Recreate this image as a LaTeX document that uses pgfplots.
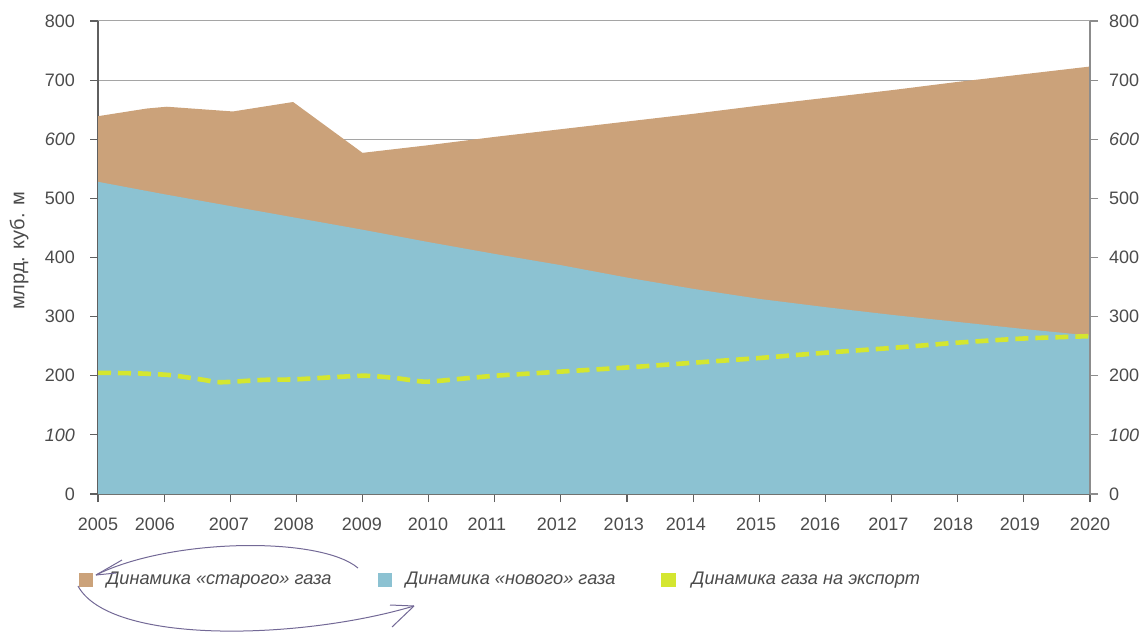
\documentclass[border=0pt]{standalone}
\usepackage{fontspec}
\setmainfont{Liberation Sans}
\usepackage{pgfplots}
\pgfplotsset{compat=1.18}
\definecolor{tanc}{RGB}{203,162,122}
\definecolor{sky}{RGB}{140,194,210}
\definecolor{lime}{RGB}{212,230,48}
\definecolor{txt}{RGB}{75,75,75}
\definecolor{axc}{RGB}{95,95,95}
\definecolor{axr}{RGB}{140,140,140}
\definecolor{gridc}{RGB}{165,165,165}
\definecolor{pen}{RGB}{115,105,150}
\pgfplotsset{
  layers/mylayers/.define layer set={axis background,axis grid,main,axis ticks,axis lines,axis tick labels,axis descriptions,axis foreground}{},
}
\begin{document}
\begin{tikzpicture}
\begin{axis}[
  set layers=mylayers,
  scale only axis, width=496pt, height=236.5pt,
  xmin=2005, xmax=2020, ymin=0, ymax=800,
  axis x line*=bottom, axis y line*=left,
  ytick={0,100,...,800},
  yticklabels={0,\textit{100},200,300,400,500,\textit{600},700,800},
  ymajorgrids, grid style={gridc, line width=0.5pt},
  xtick={2005,...,2020}, xticklabels={},
  extra x ticks={2005,2005.86,2006.98,2007.96,2008.99,2009.99,2010.88,2011.94,2012.95,2013.89,2014.95,2015.92,2016.95,2017.93,2018.94,2020},
  extra x tick labels={2005,2006,2007,2008,2009,2010,2011,2012,2013,2014,2015,2016,2017,2018,2019,2020},
  extra x tick style={major tick length=0pt},
  tick align=outside, major tick length=4pt,
  axis line style={axc, line width=0.6pt},
  tick style={axc, line width=0.6pt},
  ticklabel style={font=\fontsize{9}{10}\selectfont, color=txt},
  xticklabel style={yshift=-8.5pt},
  yticklabel style={xshift=-4pt},
  ylabel={млрд. куб. м},
  ylabel style={font=\fontsize{10}{12}\selectfont, color=txt, at={(axis description cs:-0.0796,0.514)}, anchor=center, rotate=0},
  legend columns=3,
  legend style={at={(-0.026,-0.182)}, anchor=west, draw=none, fill=none,
    font=\itshape\fontsize{9.1}{11}\selectfont, text=txt,
    /tikz/every even column/.append style={column sep=21pt}},
]
\coordinate (bl) at (rel axis cs:0,0);
\addplot[fill=tanc, draw=none,
  legend image code/.code={\path[fill=tanc, draw=none] (0pt,-3.7pt) rectangle (7.4pt,3.7pt); \path (12pt,0pt);}]
  coordinates {(2005,639) (2005.74,652) (2006.04,655) (2007.04,647) (2007.95,663) (2009,577)
   (2010,590) (2011,604) (2012,617) (2013,630) (2014,643) (2015,657) (2016,670)
   (2017,683) (2018,697) (2019,710) (2020,723)} \closedcycle;
\addlegendentry{Динамика «старого» газа}
\addplot[fill=sky, draw=none,
  legend image code/.code={\path[fill=sky, draw=none] (0pt,-3.7pt) rectangle (7.4pt,3.7pt); \path (12pt,0pt);}]
  coordinates {(2005,528) (2006,507) (2007,487) (2008,467) (2009,447) (2010,426)
   (2011,406) (2012,387) (2013,366) (2014,347) (2015,330) (2016,316) (2017,303)
   (2018,291) (2019,279) (2020,268)} \closedcycle;
\addlegendentry{Динамика «нового» газа}
\addplot[lime, line width=2.3pt, dash pattern=on 6.5pt off 3.5pt, smooth, tension=0.4,
  legend image code/.code={\path[fill=lime, draw=none, solid] (0pt,-3.7pt) rectangle (7.4pt,3.7pt); \path (12pt,0pt);}]
  coordinates {(2005,205) (2005.6,204) (2006.1,201) (2006.6,193) (2006.85,189) (2007.5,193)
   (2008,194) (2009,200) (2009.5,196) (2009.95,190) (2010.5,195) (2011,200) (2012,207)
   (2013,214) (2014,222) (2015,230) (2016,239) (2017,247) (2018,256) (2019,263) (2020,267)};
\addlegendentry{Динамика газа на экспорт}
\end{axis}
\begin{axis}[
  scale only axis, width=496pt, height=236.5pt,
  xmin=2005, xmax=2020, ymin=0, ymax=800,
  axis x line=none, axis y line*=right,
  ytick={0,100,...,800},
  yticklabels={0,\textit{100},200,300,400,500,\textit{600},700,800},
  tick align=outside, major tick length=4pt,
  axis line style={axr, line width=0.6pt},
  tick style={axr, line width=0.6pt},
  ticklabel style={font=\fontsize{9}{10}\selectfont, color=txt},
  yticklabel style={xshift=2pt},
]
\end{axis}
\begin{scope}[shift={([xshift=-49pt,yshift=247pt]bl)}, x=0.5pt, y=-0.5pt, pen, line width=0.5pt]
  \draw (358,568) .. controls (320,536) and (170,538) .. (96,575);
  \draw (96,575) -- (122,560);
  \draw (96,575) -- (116,573);
  \draw (78,586) .. controls (110,645) and (300,640) .. (414,606);
  \draw (414,606) -- (390,605);
  \draw (414,606) -- (392,627);
\end{scope}
\pgfresetboundingbox
\path ([xshift=-49pt,yshift=-69.5pt]bl) rectangle ([xshift=522.5pt,yshift=247pt]bl);
\end{tikzpicture}
\end{document}
